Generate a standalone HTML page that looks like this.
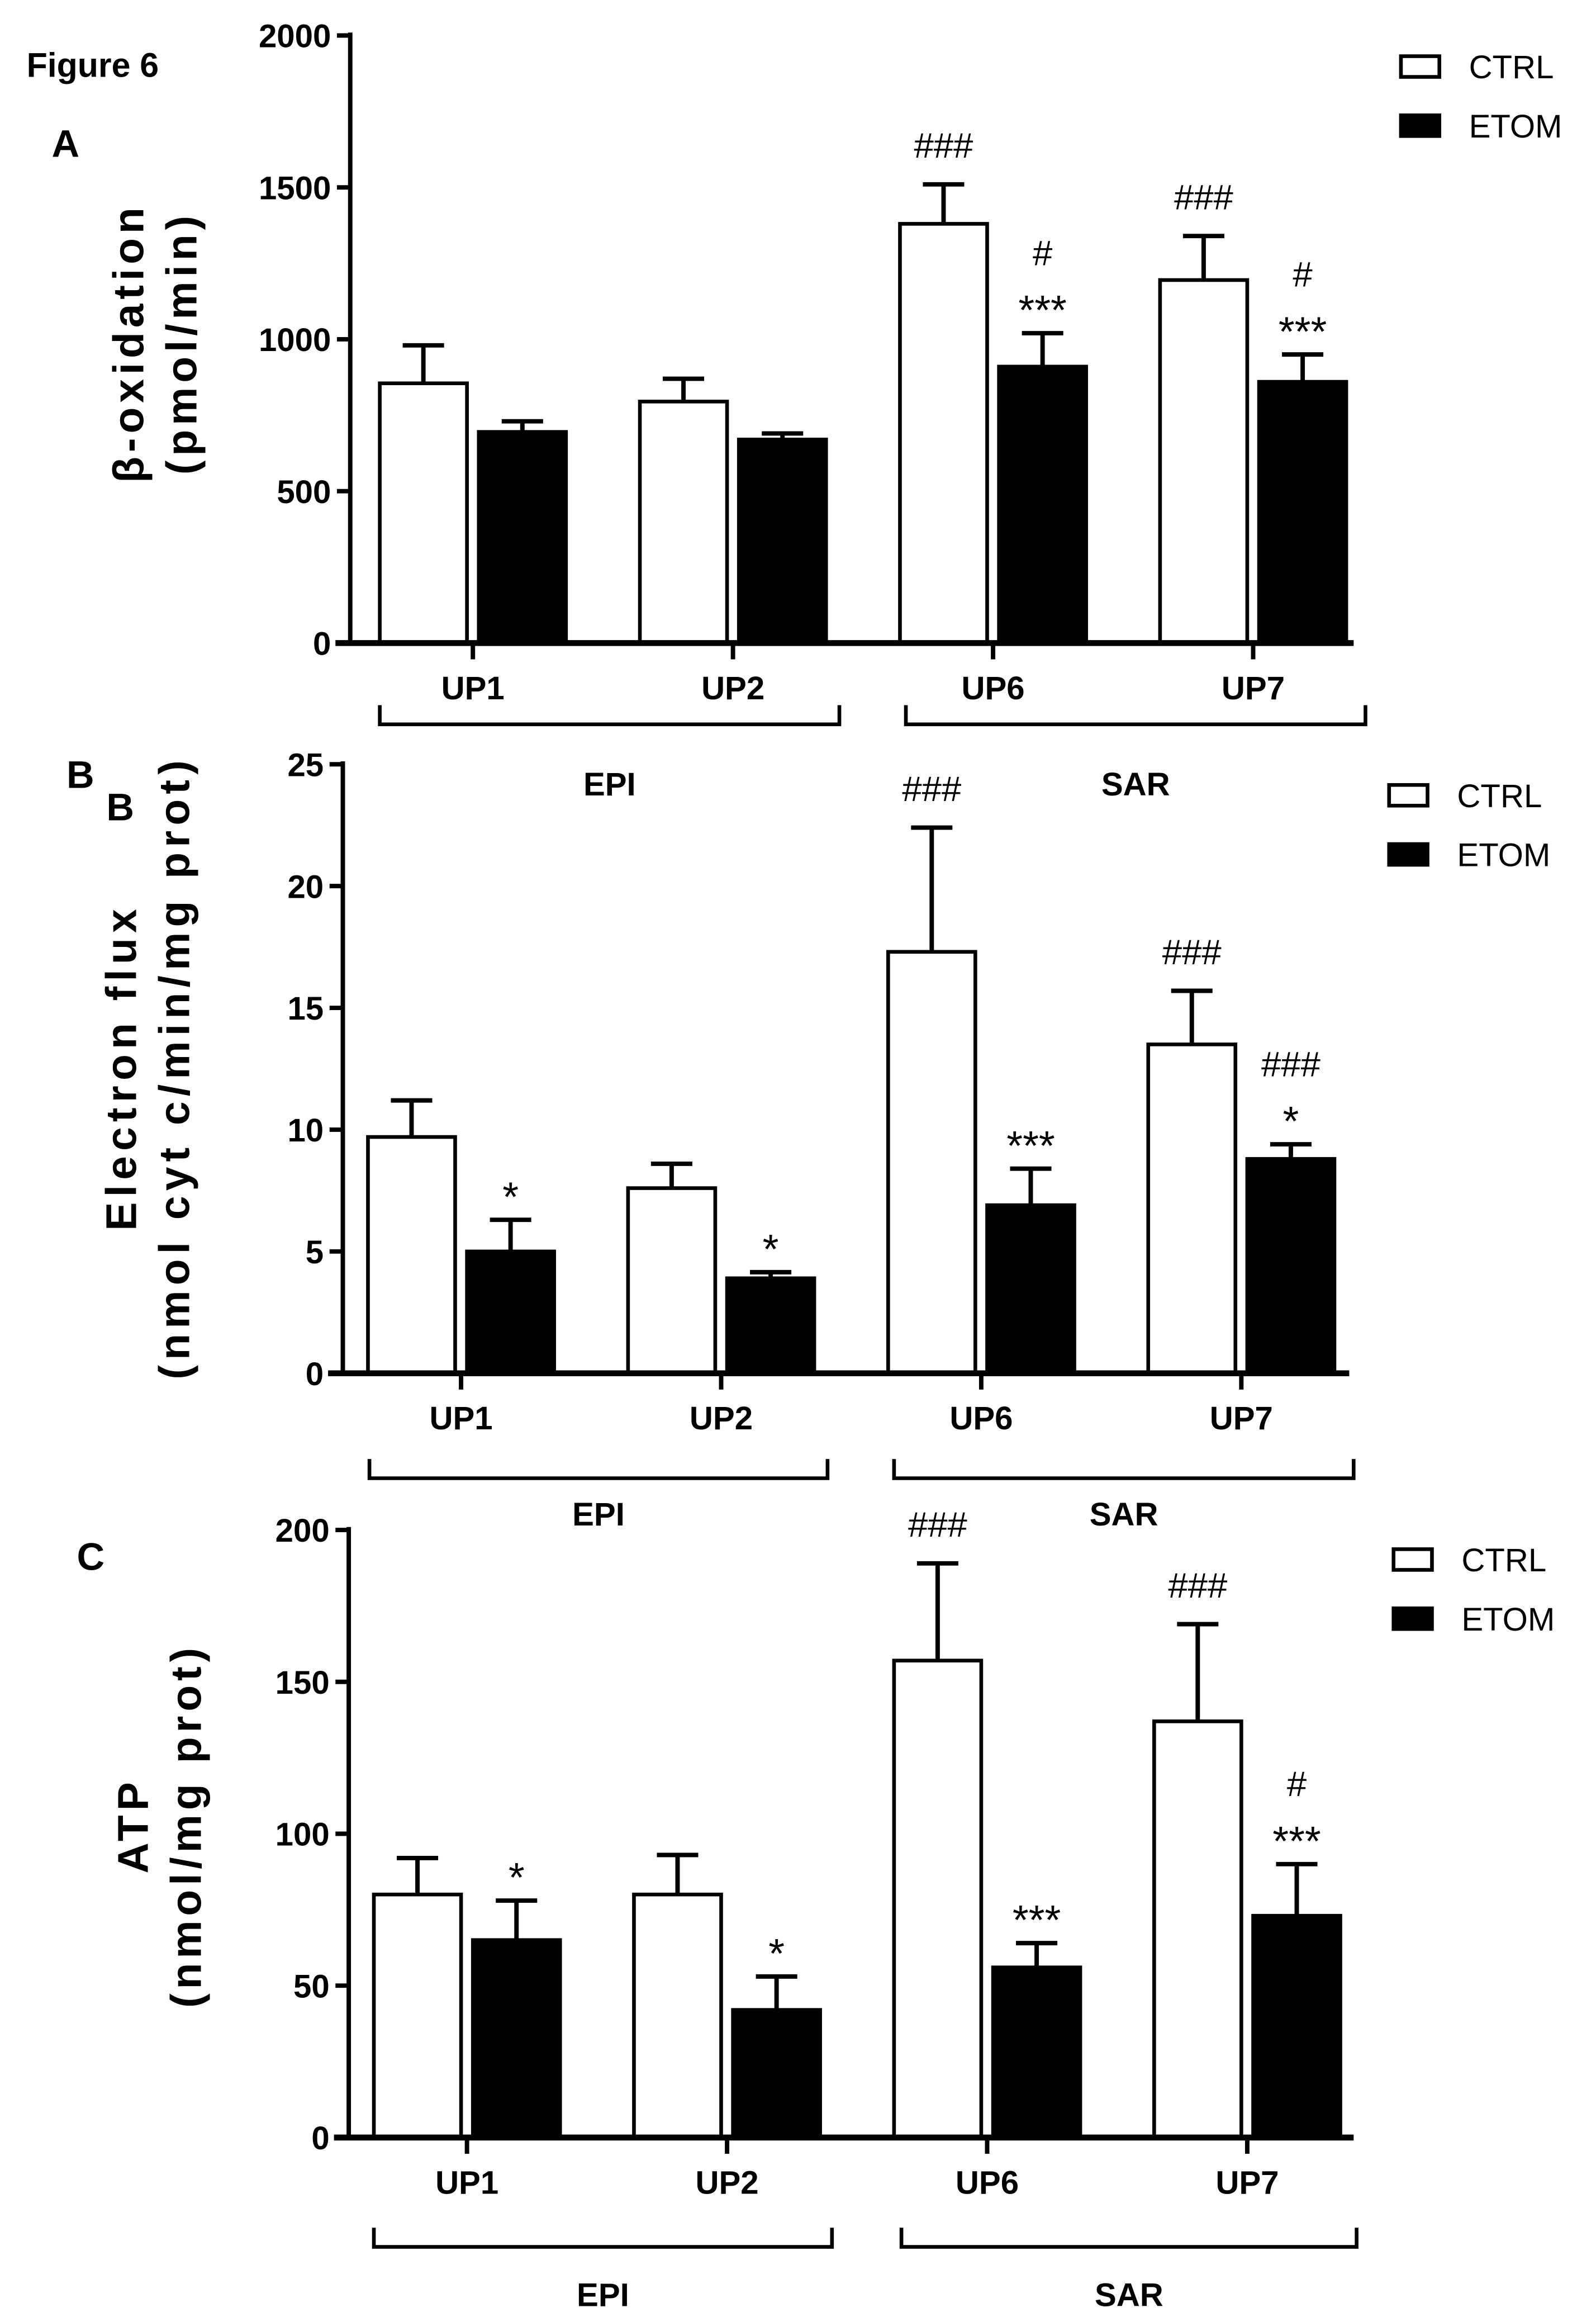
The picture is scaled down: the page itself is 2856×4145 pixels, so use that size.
<!DOCTYPE html>
<html><head><meta charset="utf-8"><style>
html,body{margin:0;padding:0;background:#fff}
svg{display:block}
text{font-family:"Liberation Sans Narrow","Liberation Sans",sans-serif;font-weight:bold;fill:#000}
.lg{font-family:"Liberation Sans",sans-serif;font-weight:normal}
.yt{font-family:"Liberation Sans",sans-serif;font-weight:bold;letter-spacing:2px}
</style></head><body>
<svg id="fig" width="2856" height="4145" viewBox="0 0 1080 1567.4" xmlns="http://www.w3.org/2000/svg">
<text x="18" y="52" font-size="23" class="yt" style="letter-spacing:0">Figure 6</text>
</svg>
<script>
const categories = ["UP1","UP2","UP6","UP7"];
const groupLabels = ["EPI","SAR"];
const seriesNames = ["CTRL","ETOM"];
// Panel A: beta-oxidation
const aCtrl = [855, 795, 1380, 1195];
const aCtrlErr = [125, 75, 130, 145];
const aEtom = [695, 670, 910, 860];
const aEtomErr = [35, 20, 110, 90];
const aTicks = [0, 500, 1000, 1500, 2000];
const aCtrlAnn = [[],[],["###"],["###"]];
const aEtomAnn = [[],[],["#","***"],["#","***"]];
// Panel B: electron flux
const bCtrl = [9.7, 7.6, 17.3, 13.5];
const bCtrlErr = [1.5, 1.0, 5.1, 2.2];
const bEtom = [5.0, 3.9, 6.9, 8.8];
const bEtomErr = [1.3, 0.25, 1.5, 0.6];
const bTicks = [0, 5, 10, 15, 20, 25];
const bCtrlAnn = [[],[],["###"],["###"]];
const bEtomAnn = [["*"],["*"],["***"],["###","*"]];
// Panel C: ATP
const cCtrl = [80, 80, 157, 137];
const cCtrlErr = [12, 13, 32, 32];
const cEtom = [65, 42, 56, 73];
const cEtomErr = [13, 11, 8, 17];
const cTicks = [0, 50, 100, 150, 200];
const cCtrlAnn = [[],[],["###"],["###"]];
const cEtomAnn = [["*"],["*"],["***"],["#","***"]];

const NS = "http://www.w3.org/2000/svg";
const svg = document.getElementById("fig");
function el(tag, attrs, parent, txt){
  const e = document.createElementNS(NS, tag);
  for (const k in attrs) e.setAttribute(k, attrs[k]);
  if (txt !== undefined) e.textContent = txt;
  (parent || svg).appendChild(e);
  return e;
}
function panel(p){
  const g = el("g", {});
  
  
  const maxV = p.ticks[p.ticks.length-1];
  const yS = v => p.y0 - (v / maxV) * (p.y0 - p.yTop);
  const xS = i => p.c0 + i * 176;
  const ax = el("line", {x1:p.ax, y1:p.yTop-2, x2:p.ax, y2:p.y0+1, stroke:"#000","stroke-width":3}, g);
  
  
  p.ticks.forEach(t => {
    const y = yS(t);
    el("line", {x1:p.ax-9, y1:y, x2:p.ax, y2:y, stroke:"#000","stroke-width":3}, g);
    const tl = el("text", {x:p.ax-13, y:y+8, "font-size":22, "text-anchor":"end"}, g, String(t));
    
    
  });
  categories.forEach((c, i) => {
    const cx = xS(i);
    [[p.ctrl, p.ctrlErr, "#fff", p.ctrlAnn, cx-63], [p.etom, p.etomErr, "#000", p.etomAnn, cx+4]].forEach((s, k) => {
      const v = s[0][i], e = s[1][i], x = s[4], w = 59;
      const ye = yS(v + e), yv = yS(v);
      el("line", {x1:x+w/2, y1:ye, x2:x+w/2, y2:yv, stroke:"#000","stroke-width":3}, g);
      el("line", {x1:x+w/2-14, y1:ye, x2:x+w/2+14, y2:ye, stroke:"#000","stroke-width":3}, g);
      const r = el("rect", {x:x, y:yv, width:w, height:p.y0-yv, fill:s[2], stroke:"#000","stroke-width":2.5}, g);
      
      
      const ann = s[3][i];
      ann.forEach((a, j) => {
        const yy = ye - 18 - (ann.length-1-j) * 28;
        const t = el("text", {x:x+w/2, y:yy + (a.startsWith("*") ? 12 : 0), "font-size": a.startsWith("*") ? 28 : 24, "text-anchor":"middle", style:"font-weight:normal"}, g, a);
        
        
      });
    });
    el("line", {x1:cx, y1:p.y0, x2:cx, y2:p.y0+11, stroke:"#000","stroke-width":3}, g);
    const cl = el("text", {x:cx, y:p.y0+38, "font-size":22, "text-anchor":"middle"}, g, c);
    
    
  });
  const xa = el("line", {x1:p.ax-10, y1:p.y0, x2:p.axEnd, y2:p.y0, stroke:"#000","stroke-width":4}, g);
  
  
  p.br.forEach((b, k) => {
    el("path", {d:`M${b[0]},${p.brY-13} V${p.brY} H${b[1]} V${p.brY-13}`, fill:"none", stroke:"#000","stroke-width":2.5}, g);
    const gl = el("text", {x:(b[0]+b[1])/2, y:p.brLY, "font-size":22, "text-anchor":"middle"}, g, groupLabels[k]);
    
    
  });
  seriesNames.forEach((n, k) => {
    const ly = p.legY + k*40;
    el("rect", {x:p.legX, y:ly-7, width:26, height:14, fill:k ? "#000":"#fff", stroke:"#000","stroke-width":2.5}, g);
    const lt = el("text", {x:p.legX+46, y:ly+8, "font-size":22, class:"lg"}, g, n);
    
    
  });
  p.yTitle.forEach((t, k) => {
    const tx = p.ytX + k*36;
    const yt = el("text", {x:tx, y:p.ytY, "font-size":p.ytSize, "text-anchor":"middle", class:"yt", style:"letter-spacing:"+p.ytLs+"px", transform:`rotate(-90 ${tx} ${p.ytY})`}, g, t);
    
    
  });
  p.letters.forEach(L => {
    const lt = el("text", {x:L[1], y:L[2], "font-size":26, class:"yt"}, g, L[0]);
    
    
  });
}
panel({name:"panel-a-beta-oxidation", ax:237, axEnd:916, y0:435, yTop:24, c0:320, ticks:aTicks,
  ctrl:aCtrl, ctrlErr:aCtrlErr, etom:aEtom, etomErr:aEtomErr, ctrlAnn:aCtrlAnn, etomAnn:aEtomAnn,
  br:[[257,568],[613,924]], brY:490, brLY:538, legX:948, legY:45,
  yTitle:["β-oxidation","(pmol/min)"], ytX:97, ytY:232, ytSize:29, ytLs:3, letters:[["A",35,106]]});
panel({name:"panel-b-electron-flux", ax:232, axEnd:913, y0:929, yTop:517, c0:312, ticks:bTicks,
  ctrl:bCtrl, ctrlErr:bCtrlErr, etom:bEtom, etomErr:bEtomErr, ctrlAnn:bCtrlAnn, etomAnn:bEtomAnn,
  br:[[250,560],[605,916]], brY:1000, brLY:1032, legX:940, legY:538,
  yTitle:["Electron flux","(nmol cyt c/min/mg prot)"], ytX:92, ytY:722, ytSize:29, ytLs:3.5, letters:[["B",45,533],["B",72,555]]});
panel({name:"panel-c-atp", ax:236, axEnd:916, y0:1446, yTop:1035, c0:316, ticks:cTicks,
  ctrl:cCtrl, ctrlErr:cCtrlErr, etom:cEtom, etomErr:cEtomErr, ctrlAnn:cCtrlAnn, etomAnn:cEtomAnn,
  br:[[253,563],[610,918]], brY:1520, brLY:1560, legX:943, legY:1055,
  yTitle:["ATP","(nmol/mg prot)"], ytX:100, ytY:1235, ytSize:29, ytLs:3, letters:[["C",52,1062]]});
</script>
</body></html>
